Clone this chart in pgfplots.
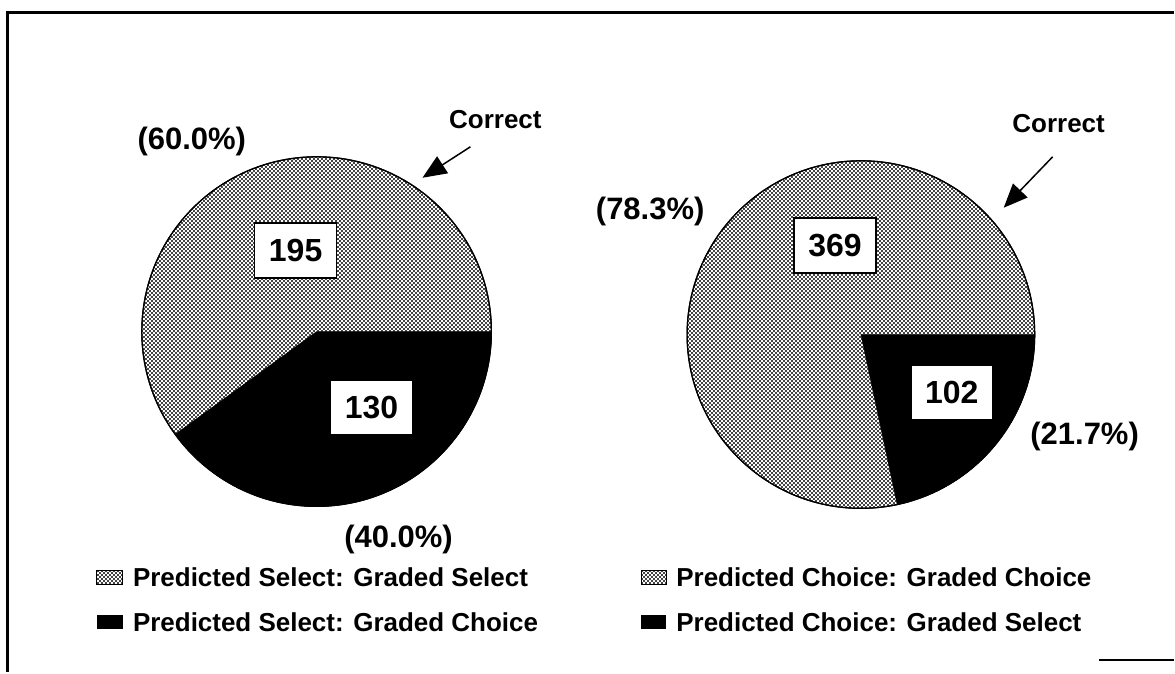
\documentclass[border=0pt]{standalone}
\usepackage{pgfplots}
\pgfplotsset{compat=1.18}
\usepackage{fontspec}
\setmainfont{Liberation Sans}
\usetikzlibrary{patterns,arrows.meta}
\pgfdeclarepatternformonly{mydots}{\pgfpointorigin}{\pgfqpoint{4bp}{4bp}}{\pgfqpoint{4bp}{4bp}}{%
  \pgfpathcircle{\pgfqpoint{1bp}{1bp}}{1.18bp}%
  \pgfpathcircle{\pgfqpoint{3bp}{3bp}}{1.18bp}%
  \pgfusepath{fill}}
% data
\def\SelCorrect{195}\def\SelWrong{130}
\def\ChoCorrect{369}\def\ChoWrong{102}
\begin{document}
\begin{tikzpicture}[font=\bfseries]
\begin{axis}[x=1bp,y=1bp,xmin=0,xmax=1175,ymin=0,ymax=673,hide axis,clip=false,
  scale only axis]
\path[draw=none] (axis cs:0,0) rectangle (axis cs:1175,673);
% frame
\draw[line width=3bp] (axis cs:8,0) -- (axis cs:8,660) -- (axis cs:1175,660);
\draw[line width=2bp] (axis cs:1100,12) -- (axis cs:1175,12);
% pie 1
\pgfmathsetmacro{\aA}{\SelCorrect/(\SelCorrect+\SelWrong)*360}
\filldraw[fill=white,draw=black,line width=1.2bp] (axis cs:317,341) circle[radius=175bp];
\fill[pattern=mydots,pattern color=black] (axis cs:317,341) -- ++(0:175bp) arc[start angle=0,end angle=\aA,radius=175bp] -- cycle;
\filldraw[fill=black,draw=black] (axis cs:317,341) -- ++(0:175bp) arc[start angle=0,end angle=\aA-360,radius=175bp] -- cycle;
\draw[line width=1.2bp] (axis cs:317,341) circle[radius=175bp];
% pie 2
\pgfmathsetmacro{\aB}{\ChoCorrect/(\ChoCorrect+\ChoWrong)*360}
\filldraw[fill=white,draw=black,line width=1.2bp] (axis cs:862,338) circle[radius=174bp];
\fill[pattern=mydots,pattern color=black] (axis cs:862,338) -- ++(0:174bp) arc[start angle=0,end angle=\aB,radius=174bp] -- cycle;
\filldraw[fill=black,draw=black] (axis cs:862,338) -- ++(0:174bp) arc[start angle=0,end angle=\aB-360,radius=174bp] -- cycle;
\draw[line width=1.2bp] (axis cs:862,338) circle[radius=174bp];
% value boxes
\tikzset{vbox/.style={fill=white,draw=black,line width=1.6bp,minimum width=82bp,minimum height=55bp,inner sep=0pt,font=\fontsize{32bp}{36bp}\selectfont\bfseries}}
\node[vbox] at (axis cs:296,422) {\SelCorrect};
\node[vbox] at (axis cs:372,265) {\SelWrong};
\node[vbox] at (axis cs:836,427) {\ChoCorrect};
\node[vbox] at (axis cs:953,280) {\ChoWrong};
% percent labels
\tikzset{pct/.style={font=\fontsize{31bp}{34bp}\selectfont\bfseries,inner sep=0pt}}
\node[pct] at (axis cs:192,531) {(60.0\%)};
\node[pct] at (axis cs:399,133) {(40.0\%)};
\node[pct] at (axis cs:651,461) {(78.3\%)};
\node[pct] at (axis cs:1086,236) {(21.7\%)};
% Correct
\tikzset{cor/.style={font=\fontsize{26bp}{28bp}\selectfont\bfseries,inner sep=0pt}}
\node[cor] at (axis cs:496,553) {Correct};
\draw[line width=1.5bp,-{Triangle[length=24bp,width=20bp]}] (axis cs:471,526) -- (axis cs:423,495);
\node[cor] at (axis cs:1060,549) {Correct};
\draw[line width=1.5bp,-{Triangle[length=24bp,width=20bp]}] (axis cs:1054,516) -- (axis cs:1005,465);
% legend
\tikzset{lg/.style={font=\fontsize{26bp}{28bp}\selectfont\bfseries,inner sep=0pt,anchor=west}}
\filldraw[pattern=mydots,pattern color=black,draw=black,line width=0.8bp] (axis cs:97,88) rectangle (axis cs:123,102);
\node[lg] at (axis cs:133,95) {Predicted Select: Graded Select};
\fill[black] (axis cs:97,43) rectangle (axis cs:123,57);
\node[lg] at (axis cs:133,50) {Predicted Select: Graded Choice};
\filldraw[pattern=mydots,pattern color=black,draw=black,line width=0.8bp] (axis cs:642,88) rectangle (axis cs:667,102);
\node[lg] at (axis cs:677,95) {Predicted Choice: Graded Choice};
\fill[black] (axis cs:642,43) rectangle (axis cs:667,57);
\node[lg] at (axis cs:677,50) {Predicted Choice: Graded Select};
\end{axis}
\end{tikzpicture}
\end{document}
